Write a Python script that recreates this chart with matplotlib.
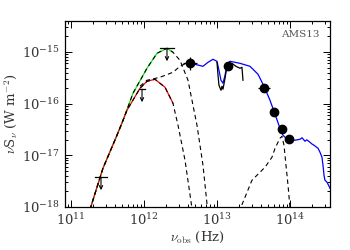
import numpy as np
import matplotlib
matplotlib.use('Agg')
import matplotlib.pyplot as plt

plt.rcParams['font.family'] = 'serif'
plt.rcParams['font.serif'] = ['DejaVu Serif']
plt.rcParams['mathtext.fontset'] = 'cm'

# all values, as log10(nu / Hz) and log10(nu S_nu / W m^-2)
green_nu = [11.26, 11.438, 11.630, 11.699, 11.849, 12.041, 12.178, 12.315, 12.397,
            12.493, 12.603, 12.726, 12.808, 12.875]
green_s = [-18.05, -17.25, -16.611, -16.379, -15.799, -15.315, -15.025, -14.928, -15.006,
           -15.161, -15.547, -16.418, -17.191, -18.10]

red_nu = [11.26, 11.438, 11.630, 11.767, 11.945, 12.041, 12.151, 12.288, 12.397,
          12.466, 12.562, 12.665]
red_s = [-18.05, -17.25, -16.611, -16.128, -15.702, -15.567, -15.528, -15.683, -15.992,
         -16.418, -17.095, -18.10]

sum_nu = [11.945, 12.041, 12.219, 12.397, 12.493, 12.576]
sum_s = [-15.663, -15.547, -15.489, -15.393, -15.277, -15.219]

blue_nu = [12.576, 12.699, 12.808, 12.877, 12.945, 13.0, 13.027, 13.055, 13.082, 13.110,
           13.137, 13.178, 13.315, 13.452, 13.562, 13.644, 13.726, 13.795, 13.863, 13.904,
           13.945, 14.0, 14.068, 14.137, 14.165, 14.205, 14.23, 14.274, 14.30, 14.329,
           14.384, 14.411, 14.438, 14.452, 14.466, 14.479, 14.507, 14.548]
blue_s = [-15.219, -15.238, -15.277, -15.199, -15.141, -15.180, -15.354, -15.547, -15.605, -15.451,
          -15.238, -15.180, -15.219, -15.277, -15.431, -15.663, -15.934, -16.205, -16.476, -16.611,
          -16.669, -16.689, -16.708, -16.689, -16.66, -16.727, -16.70, -16.747, -16.78, -16.805,
          -16.863, -16.940, -17.037, -17.191, -17.385, -17.482, -17.520, -17.636]

irs_nu = [13.0, 13.014, 13.027, 13.055, 13.068, 13.082, 13.110, 13.137, 13.164, 13.205,
          13.260, 13.315, 13.342, 13.356]
irs_s = [-15.199, -15.451, -15.644, -15.741, -15.663, -15.721, -15.509, -15.277, -15.238, -15.219,
         -15.277, -15.315, -15.296, -15.547]

star_nu = [13.30, 13.479, 13.589, 13.658, 13.753, 13.795, 13.863, 13.890, 13.918, 13.945,
           13.973, 14.005]
star_s = [-18.10, -17.482, -17.327, -17.230, -17.037, -16.863, -16.669, -16.631, -16.805, -17.191,
          -17.578, -18.10]

det_nu = [12.630, 13.151, 13.644, 13.781, 13.890, 13.986]
det_s = [-15.219, -15.277, -15.702, -16.166, -16.495, -16.689]
det_xerr = [0.10, 0.0, 0.08, 0.0, 0.0, 0.0]
det_yerr = [0.12, 0.0, 0.0, 0.0, 0.0, 0.0]

lim_nu = [11.411, 11.973, 12.315]
lim_s = [-17.424, -15.721, -14.928]

x_ticks = [1e11, 1e12, 1e13, 1e14]
y_ticks = [1e-18, 1e-17, 1e-16, 1e-15]

fig = plt.figure(figsize=(3.5, 2.5), dpi=100)
ax = fig.add_axes([65/350, 43/250, 265/350, 186/250])

def p(a):
    return 10**np.array(a)

dash = (0, (4, 3))

# coloured components, overplotted with black dashes
gn, gs = np.array(green_nu), np.array(green_s)
rn, rs = np.array(red_nu), np.array(red_s)
ax.plot(p(gn[gn <= 12.40]), p(gs[gn <= 12.40]), color='#00ee00', lw=0.9)
ax.plot(p(rn[rn <= 12.40]), p(rs[rn <= 12.40]), color='red', lw=0.9)
ax.plot(p(green_nu), p(green_s), color='k', lw=0.8, ls=dash)
ax.plot(p(red_nu), p(red_s), color='k', lw=0.8, ls=dash)
ax.plot(p(sum_nu), p(sum_s), color='k', lw=0.8, ls=dash)
ax.plot(p(star_nu), p(star_s), color='k', lw=0.8, ls=dash)

ax.plot(p(blue_nu), p(blue_s), color='blue', lw=0.9)
ax.plot(p(irs_nu), p(irs_s), color='k', lw=0.9)

# detections
dn, ds = p(det_nu), p(det_s)
xe = np.array([dn - dn / 10**np.array(det_xerr), dn * 10**np.array(det_xerr) - dn])
ye = np.array([ds - ds / 10**np.array(det_yerr), ds * 10**np.array(det_yerr) - ds])
ax.errorbar(dn, ds, xerr=xe, yerr=ye, fmt='o', color='k', ms=6, elinewidth=0.9, capsize=0, zorder=5)

# upper limits
for n, s, w in zip(lim_nu, lim_s, [0.08, 0.04, 0.10]):
    ax.plot([10**(n - w), 10**(n + w)], [10**s, 10**s], color='k', lw=0.9)
    ax.annotate('', xy=(10**n, 10**(s - 0.25)), xytext=(10**n, 10**s),
                arrowprops=dict(arrowstyle='->', color='k', lw=0.8, mutation_scale=6,
                                shrinkA=0, shrinkB=0))

ax.set_xscale('log')
ax.set_yscale('log')
ax.set_xticks(x_ticks)
ax.set_yticks(y_ticks)
ax.set_xlim(10**10.918, 10**14.548)
ax.set_ylim(1e-18, 10**-14.40)

ax.tick_params(which='both', direction='in', top=True, right=True, labelsize=9.5,
               labelcolor='#333333', width=0.7)
ax.tick_params(which='major', length=5)
ax.tick_params(which='minor', length=2.5)
for sp in ax.spines.values():
    sp.set_linewidth(0.9)

ax.set_xlabel(r'$\nu_{\rm obs}$ (Hz)', fontsize=9.5, color='#333333', labelpad=1)
ax.set_ylabel(r'$\nu$S$_\nu$ (W m$^{-2}$)', fontsize=9.5, color='#333333', labelpad=2)
ax.text(0.96, 0.93, 'AMS13', transform=ax.transAxes, ha='right', va='center',
        fontsize=7.5, color='#555555')

fig.savefig('out.png', dpi=100)
